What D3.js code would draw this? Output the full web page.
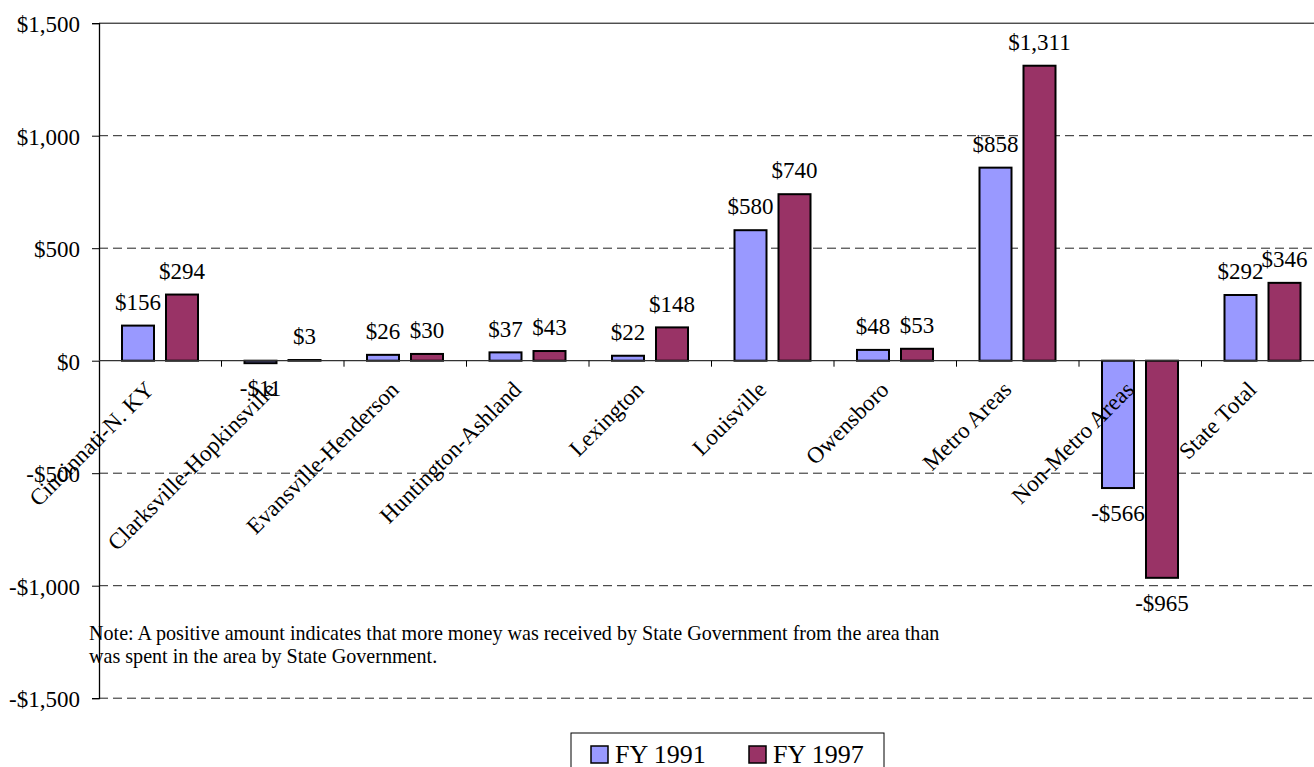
<!DOCTYPE html>
<html>
<head>
<meta charset="utf-8">
<script src="https://cdn.jsdelivr.net/npm/d3@7"></script>
<style>
  html, body { margin: 0; padding: 0; background: #fff; }
  text { font-family: "Liberation Serif", "Times New Roman", serif; fill: #000; }
</style>
</head>
<body>
<div id="main"></div>
<script>
var categories = ["Cincinnati-N. KY", "Clarksville-Hopkinsville", "Evansville-Henderson",
    "Huntington-Ashland", "Lexington", "Louisville", "Owensboro", "Metro Areas",
    "Non-Metro Areas", "State Total"];
var series = ["FY 1991", "FY 1997"];
var fy1991 = [156, -11, 26, 37, 22, 580, 48, 858, -566, 292];
var fy1997 = [294, 3, 30, 43, 148, 740, 53, 1311, -965, 346];
var yTicks = [-1500, -1000, -500, 0, 500, 1000, 1500];
var colors = ["#9999ff", "#993366"];
var noteLines = [
    "Note: A positive amount indicates that more money was received by State Government from the area than",
    "was spent in the area by State Government."
];

var W = 1314, H = 767;
var svg = d3.select('#main').append('svg')
    .attr('width', W).attr('height', H);

var x0 = d3.scaleBand().domain(categories).range([99, 1324]).paddingInner(0).paddingOuter(0);
var x1 = d3.scaleBand().domain(series).range([23, 99]).paddingInner(12 / 44).paddingOuter(0);
var y = d3.scaleLinear().domain([-1500, 1500]).range([698.2, 23.2]);

var fmt = function(v) { return (v < 0 ? '-' : '') + '$' + d3.format(',')(Math.abs(v)); };

// gridlines
svg.append('g').selectAll('line')
    .data(yTicks.filter(function(t) { return t !== 0; }))
    .enter().append('line')
    .attr('x1', 99).attr('x2', W)
    .attr('y1', function(d) { return y(d); }).attr('y2', function(d) { return y(d); })
    .attr('stroke', function(d) { return d === 1500 ? '#000' : '#222'; })
    .attr('stroke-width', 1)
    .attr('stroke-dasharray', function(d) { return d === 1500 ? null : '9,5'; });

// y axis
var yAxis = svg.append('g')
    .attr('transform', 'translate(99,0)')
    .call(d3.axisLeft(y).tickValues(yTicks).tickSize(7).tickPadding(12).tickFormat(fmt));
yAxis.select('.domain').attr('stroke', '#000').attr('stroke-width', 1.3);
yAxis.selectAll('.tick line').attr('stroke', '#000');
yAxis.selectAll('.tick text')
    .attr('font-size', 23).attr('font-family', '"Liberation Serif", serif')
    .attr('fill', '#000').attr('dy', '0.38em');

// bars
var rows = categories.map(function(c, i) {
    return { cat: c, vals: [fy1991[i], fy1997[i]] };
});
var groups = svg.append('g').selectAll('g')
    .data(rows).enter().append('g')
    .attr('transform', function(d) { return 'translate(' + x0(d.cat) + ',0)'; });

groups.selectAll('rect')
    .data(function(d) { return d.vals.map(function(v, j) { return { s: series[j], v: v, j: j }; }); })
    .enter().append('rect')
    .attr('x', function(d) { return x1(d.s); })
    .attr('width', x1.bandwidth())
    .attr('y', function(d) { return y(Math.max(0, d.v)); })
    .attr('height', function(d) { return Math.abs(y(d.v) - y(0)); })
    .attr('fill', function(d) { return colors[d.j]; })
    .attr('stroke', '#000').attr('stroke-width', 2);

// zero axis
var xAxis = svg.append('g')
    .attr('transform', 'translate(0,' + y(0) + ')');
xAxis.append('line').attr('x1', 99).attr('x2', W).attr('stroke', '#333').attr('stroke-width', 1.3);
xAxis.selectAll('.tk')
    .data(categories.slice(1)).enter().append('line')
    .attr('class', 'tk')
    .attr('x1', function(d) { return x0(d); }).attr('x2', function(d) { return x0(d); })
    .attr('y1', 0).attr('y2', 6).attr('stroke', '#000');

// value labels
groups.selectAll('text.val')
    .data(function(d) { return d.vals.map(function(v, j) { return { s: series[j], v: v }; }); })
    .enter().append('text')
    .attr('class', 'val')
    .attr('x', function(d) { return x1(d.s) + x1.bandwidth() / 2; })
    .attr('y', function(d) { return d.v >= 0 ? y(d.v) - 24 : y(d.v) + 25; })
    .attr('dy', '0.36em')
    .attr('text-anchor', 'middle')
    .attr('font-size', 23)
    .text(function(d) { return fmt(d.v); });

// category labels
svg.append('g').selectAll('text')
    .data(categories).enter().append('text')
    .attr('transform', function(d) {
        return 'translate(' + (x0(d) + x0.bandwidth() / 2 - 5) + ',391) rotate(-45)';
    })
    .attr('text-anchor', 'end')
    .attr('font-size', 23)
    .text(function(d) { return d; });

// note
svg.append('g').selectAll('text')
    .data(noteLines).enter().append('text')
    .attr('x', 89)
    .attr('y', function(d, i) { return 640 + i * 23; })
    .attr('font-size', 20.1)
    .text(function(d) { return d; });

// legend
var leg = svg.append('g');
leg.append('rect').attr('x', 571).attr('y', 733).attr('width', 313).attr('height', 60)
    .attr('fill', '#fff').attr('stroke', '#000').attr('stroke-width', 1);
var legX = [591, 749];
series.forEach(function(s, i) {
    leg.append('rect').attr('x', legX[i]).attr('y', 746).attr('width', 17).attr('height', 17)
        .attr('fill', colors[i]).attr('stroke', '#000').attr('stroke-width', 1.5);
    leg.append('text').attr('x', legX[i] + 24).attr('y', 762.5)
        .attr('font-size', 26).text(s);
});
</script>
</body>
</html>
